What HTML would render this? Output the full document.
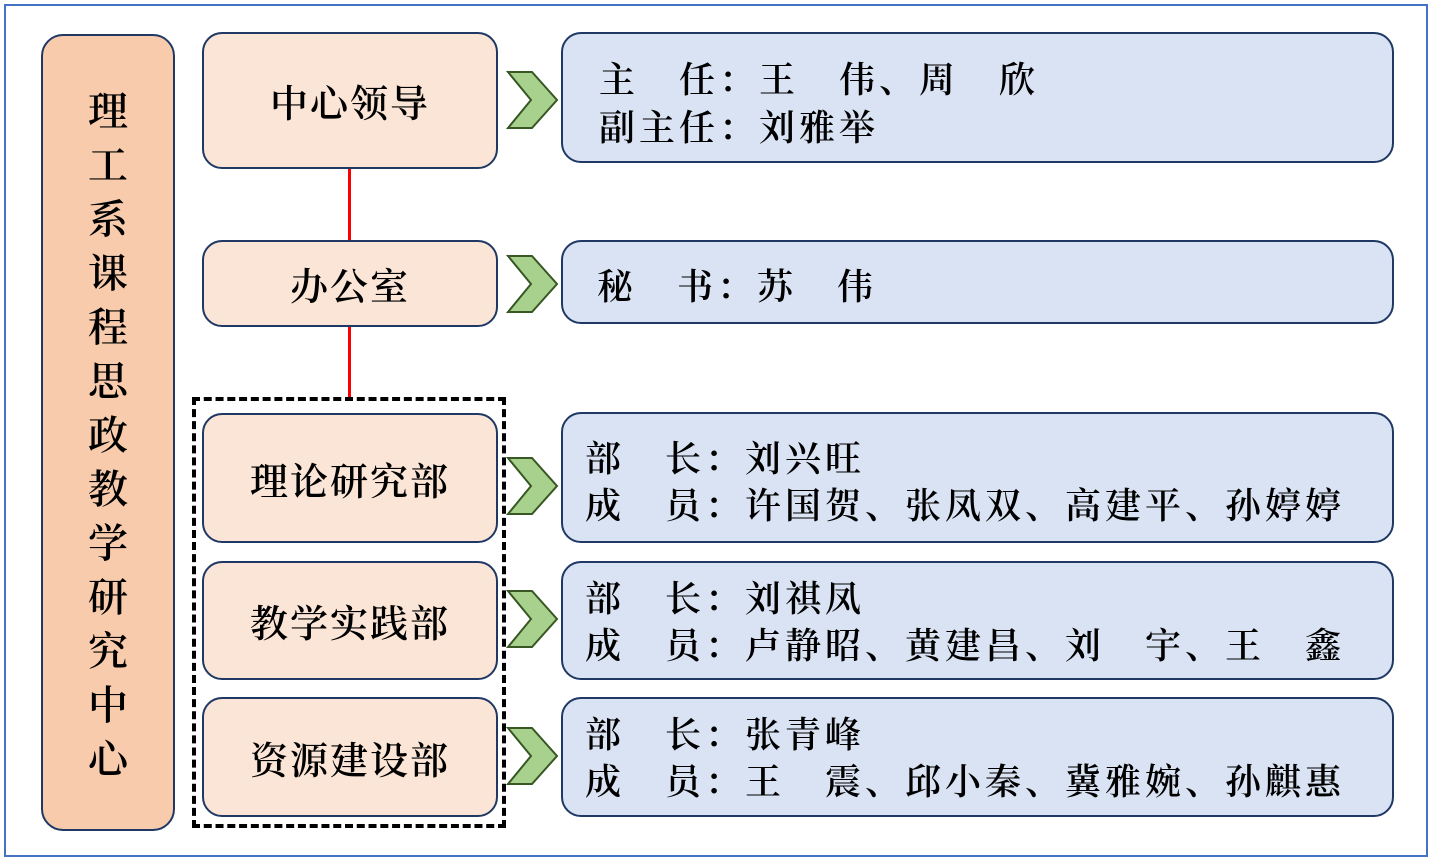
<!DOCTYPE html>
<html><head><meta charset="utf-8"><style>
body{margin:0;width:1435px;height:865px;background:#fff;position:relative;overflow:hidden;font-family:"Liberation Serif","Noto Serif CJK SC",serif;font-weight:600;color:#000}
.a{position:absolute;box-sizing:border-box}
.frame{left:4px;top:4px;width:1424px;height:853px;border:2px solid #4472C4}
.left{left:41px;top:34px;width:134px;height:797px;background:#F8CBAD;border:2px solid #1F3864;border-radius:22px}
.vt{position:absolute;left:0;width:100%;text-align:center;font-size:40px;line-height:54px;top:49px}
.m{left:202px;width:296px;background:#FBE5D6;border:2px solid #1F3864;border-radius:20px;display:flex;align-items:center;justify-content:center;font-size:38px;letter-spacing:2px}
.r{left:561px;width:833px;background:#DAE3F3;border:2px solid #1F3864;border-radius:20px;font-size:36px;letter-spacing:4px;line-height:47px;white-space:pre}
.dash{left:192px;top:397px;width:314px;height:431px;border:4px dashed #000}
.red{left:348px;width:3px;background:#f00}
</style></head><body>
<div class="a frame"></div>
<div class="a left"><div class="vt">理<br>工<br>系<br>课<br>程<br>思<br>政<br>教<br>学<br>研<br>究<br>中<br>心</div></div>
<div class="a red" style="top:169px;height:71px"></div>
<div class="a red" style="top:327px;height:72px"></div>
<div class="a dash"></div>
<div class="a m" style="top:32px;height:137px">中心领导</div>
<div class="a m" style="top:240px;height:87px">办公室</div>
<div class="a m" style="top:413px;height:130px">理论研究部</div>
<div class="a m" style="top:561px;height:119px">教学实践部</div>
<div class="a m" style="top:697px;height:120px">资源建设部</div>
<svg class="a" style="left:0;top:0" width="1435" height="865">
<g fill="#A9D18E" stroke="#385723" stroke-width="2">
<polygon points="508,72 532,72 557,100 532,128 508,128 531,100"/>
<polygon points="508,256 532,256 557,284 532,312 508,312 531,284"/>
<polygon points="508,458 532,458 557,486 532,514 508,514 531,486"/>
<polygon points="508,591 532,591 557,619 532,647 508,647 531,619"/>
<polygon points="508,728 532,728 557,756 532,784 508,784 531,756"/>
</g></svg>
<div class="a r" style="top:32px;height:131px;padding:22px 0 0 36px;line-height:48px">主　任：王　伟、周　欣
副主任：刘雅举</div>
<div class="a r" style="top:240px;height:84px;padding:22px 0 0 34px">秘　书：苏　伟</div>
<div class="a r" style="top:412px;height:131px;padding:22px 0 0 22px">部　长：刘兴旺
成　员：许国贺、张凤双、高建平、孙婷婷</div>
<div class="a r" style="top:561px;height:119px;padding:13px 0 0 22px">部　长：刘祺凤
成　员：卢静昭、黄建昌、刘　宇、王　鑫</div>
<div class="a r" style="top:697px;height:120px;padding:13px 0 0 22px">部　长：张青峰
成　员：王　震、邱小秦、冀雅婉、孙麒惠</div>
</body></html>
